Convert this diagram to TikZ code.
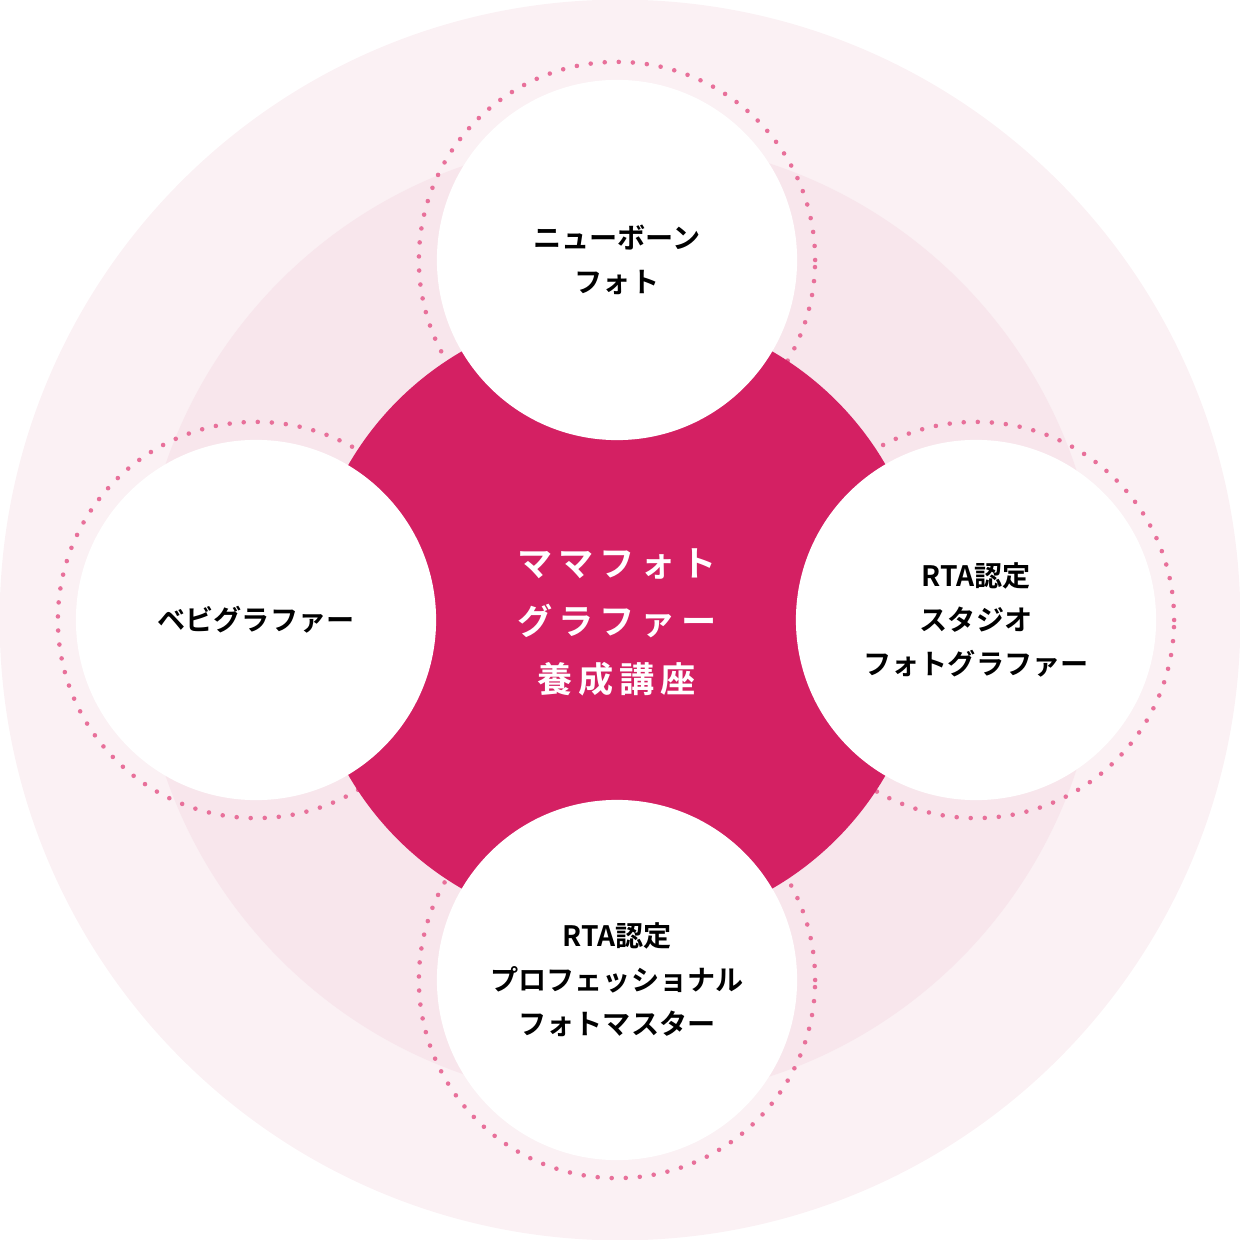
\documentclass[tikz,border=0pt]{standalone}
\usepackage{fontspec}
\newfontfamily\jpfont{Noto Sans CJK JP}[BoldFont={* Bold}]
\definecolor{ringout}{HTML}{FBF1F4}
\definecolor{ringin}{HTML}{F8E6EC}
\definecolor{hub}{HTML}{D42063}
\definecolor{dots}{HTML}{E8709A}
\begin{document}
\begin{tikzpicture}[
    x=0.01cm, y=-0.01cm,
    % Styles
    bubble/.style={circle, fill=white, minimum size=3.6cm, inner sep=0pt, align=center,
      font=\jpfont\bfseries\fontsize{8}{12.5}\selectfont},
    halo/.style={circle, draw=dots, line width=1.3pt, dash pattern=on 0pt off 4pt, line cap=round,
      minimum size=3.96cm, inner sep=0pt},
    hublabel/.style={align=center, text=white, font=\jpfont\bfseries\fontsize{10}{16.5}\selectfont},
]
\useasboundingbox (0,0) rectangle (1240,1240);

% Background rings
\fill[ringout] (620,620) circle (6.2cm);
\fill[ringin] (620,620) circle (4.8cm);

% Dotted halos
\node[halo] (h-top) at (617,260) {};
\node[halo] (h-left) at (256,620) {};
\node[halo] (h-right) at (976,620) {};
\node[halo] (h-bottom) at (617,980) {};

% Hub
\fill[hub] (617,620) circle (3.1cm);

% Bubbles
\node[bubble] (newborn) at (617,260) {ニューボーン\\フォト};
\node[bubble] (baby) at (256,620) {ベビグラファー};
\node[bubble] (studio) at (976,620) {RTA認定\\スタジオ\\フォトグラファー};
\node[bubble] (master) at (617,980) {RTA認定\\プロフェッショナル\\フォトマスター};

% Center label
\node[hublabel] (course) at (617,622) {マ\,マ\,フ\,ォ\,ト\\グ\,ラ\,フ\,ァ\,ー\\養\,成\,講\,座};
\end{tikzpicture}
\end{document}
